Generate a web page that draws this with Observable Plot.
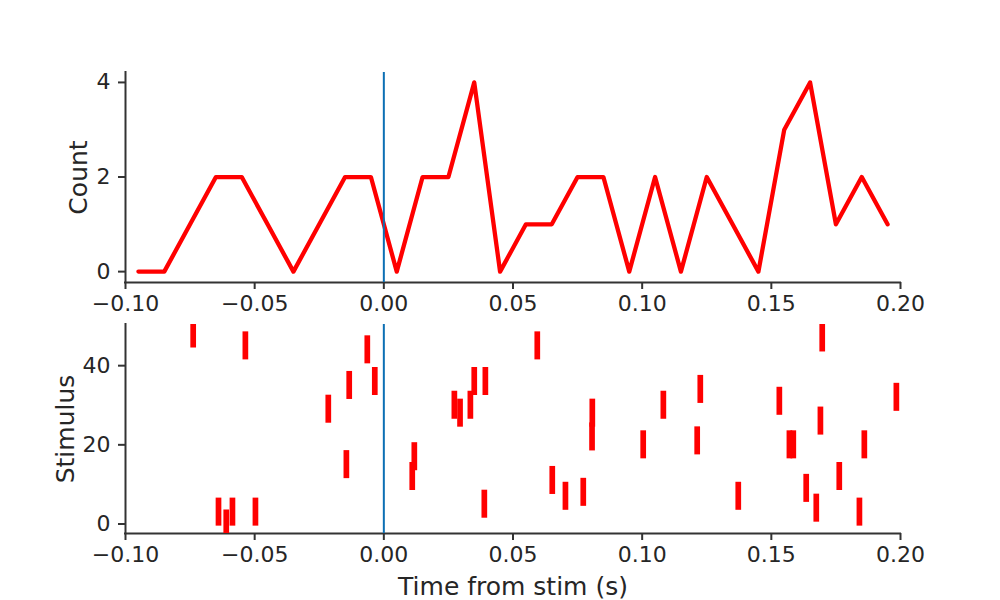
<!DOCTYPE html>
<html>
<head>
<meta charset="utf-8">
<script src="https://cdn.jsdelivr.net/npm/d3@7"></script>
<script src="https://cdn.jsdelivr.net/npm/@observablehq/plot@0.6"></script>
<style>
  html, body { margin: 0; padding: 0; background: #fff; }
  #chart { position: relative; width: 1000px; height: 600px; background: #fff; }
  #chart svg { position: absolute; left: 0; overflow: visible; }
  #chart g[aria-label$="tick label"] { font-size: 22px; }
  #chart g[aria-label$="tick label"] text { font-size: 22px; }
</style>
</head>
<body>
<div id="chart"></div>
<script>
// ---- Data ----
const binCenters = [-0.095, -0.085, -0.075, -0.065, -0.055, -0.045, -0.035, -0.025, -0.015, -0.005,
                    0.005, 0.015, 0.025, 0.035, 0.045, 0.055, 0.065, 0.075, 0.085, 0.095,
                    0.105, 0.115, 0.125, 0.135, 0.145, 0.155, 0.165, 0.175, 0.185, 0.195];
const counts = [0, 0, 1, 2, 2, 1, 0, 1, 2, 2,
                0, 2, 2, 4, 0, 1, 1, 2, 2, 0,
                2, 0, 2, 1, 0, 3, 4, 1, 2, 1];

const spikeTimes = [-0.0738, -0.0536, -0.0064, -0.0035, -0.0134, -0.0215, -0.0145, -0.064, -0.061, -0.0586, -0.0497,
                    0.0594, 0.035, 0.0393, 0.0273, 0.0295, 0.0335, 0.0118, 0.011, 0.0389, 0.0652, 0.0703, 0.0772, 0.0807, 0.0806, 0.1004,
                    0.1697, 0.1082, 0.1225, 0.1213, 0.1372, 0.1531, 0.157, 0.1585, 0.169, 0.186, 0.1984, 0.1763, 0.1635, 0.1674, 0.1841];
const spikeStims = [48, 45, 44, 36, 35, 29, 15, 3, 0, 3, 3,
                    45, 36, 36, 30, 28, 30, 17, 12, 5, 11, 7, 8, 28, 22, 20,
                    47, 30, 34, 21, 7, 31, 20, 20, 26, 20, 32, 12, 9, 4, 3];

const stimTime = [0];
const xTicks = [-0.1, -0.05, 0, 0.05, 0.1, 0.15, 0.2];
const countTicks = [0, 2, 4];
const stimTicks = [0, 20, 40];
const xDomain = [-0.1, 0.2];
const countDomain = [-0.23, 4.21];
const stimDomain = [-2.4, 50.4];

// ---- Styling ----
const RED = "#ff0000";
const BLUE = "#0c6fb4";
const AXIS = "#333333";
const TEXT = "#262626";
const FONT = "DejaVu Sans";

const hist = binCenters.map((t, i) => ({t, count: counts[i]}));
const spikes = spikeTimes.map((t, i) => ({t, stim: spikeStims[i]}));
const halfLen = 3.54; // half-length of a raster tick, in stimulus units

const axisOpts = {stroke: AXIS, strokeWidth: 2, tickSize: 7, fontSize: 22, fill: TEXT};

function spines(yDom) {
  return [
    Plot.ruleY([yDom[0]], {stroke: AXIS, strokeWidth: 2, strokeLinecap: "square"}),
    Plot.ruleX([xDomain[0]], {stroke: AXIS, strokeWidth: 2, strokeLinecap: "square"})
  ];
}

const topPlot = Plot.plot({
  width: 1000, height: 315,
  marginTop: 72, marginBottom: 33, marginLeft: 125, marginRight: 100,
  style: {fontFamily: FONT, color: TEXT, background: "transparent"},
  x: {domain: xDomain},
  y: {domain: countDomain},
  marks: [
    Plot.axisX({...axisOpts, ticks: xTicks, tickFormat: d3.format(".2f"), tickPadding: 6, label: null}),
    Plot.axisY({...axisOpts, ticks: countTicks, tickFormat: d3.format("d"), tickPadding: 8, label: null}),
    ...spines(countDomain),
    Plot.line(hist, {x: "t", y: "count", stroke: RED, strokeWidth: 4.3, strokeLinejoin: "round", strokeLinecap: "round"}),
    Plot.ruleX(stimTime, {stroke: BLUE, strokeWidth: 2}),
    Plot.text(["Count"], {text: d => d, frameAnchor: "left", dx: -47, rotate: -90, fontSize: 25, fill: TEXT, lineAnchor: "middle", textAnchor: "middle"})
  ]
});
topPlot.style.top = "0px";

const bottomPlot = Plot.plot({
  width: 1000, height: 285,
  marginTop: 9, marginBottom: 67, marginLeft: 125, marginRight: 100,
  style: {fontFamily: FONT, color: TEXT, background: "transparent"},
  x: {domain: xDomain},
  y: {domain: stimDomain},
  marks: [
    Plot.axisX({...axisOpts, ticks: xTicks, tickFormat: d3.format(".2f"), tickPadding: 6, label: null}),
    Plot.axisY({...axisOpts, ticks: stimTicks, tickFormat: d3.format("d"), tickPadding: 8, label: null}),
    ...spines(stimDomain),
    Plot.ruleX(spikes, {x: "t", y1: d => d.stim - halfLen, y2: d => d.stim + halfLen, stroke: RED, strokeWidth: 5.7, strokeLinecap: "butt", clip: true}),
    Plot.ruleX(stimTime, {stroke: BLUE, strokeWidth: 2}),
    Plot.text(["Stimulus"], {text: d => d, frameAnchor: "left", dx: -60, rotate: -90, fontSize: 25, fill: TEXT, lineAnchor: "middle", textAnchor: "middle"}),
    Plot.text(["Time from stim (s)"], {text: d => d, frameAnchor: "bottom", dy: 53, fontSize: 25, fill: TEXT, lineAnchor: "middle", textAnchor: "middle"})
  ]
});
bottomPlot.style.top = "315px";

const chart = document.getElementById("chart");
chart.appendChild(topPlot);
chart.appendChild(bottomPlot);
</script>
</body>
</html>
